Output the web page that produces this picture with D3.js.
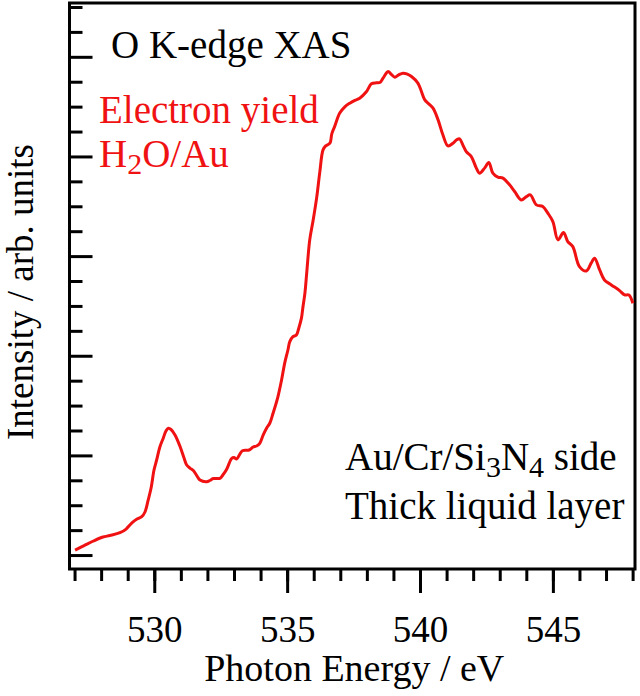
<!DOCTYPE html>
<html>
<head>
<meta charset="utf-8">
<script src="https://d3js.org/d3.v7.min.js"></script>
<style>
  body { margin: 0; background: white; }
  text { font-family: "Liberation Serif", "Times New Roman", serif; }
</style>
</head>
<body>
<div id="my_dataviz"></div>
<script>
// photon energy (eV)
var energy = [527.02, 527.36, 527.71, 528.07, 528.33, 528.71, 528.94, 529.15, 529.35, 529.53,
    529.65, 529.77, 529.88, 529.99, 530.09, 530.21, 530.34, 530.44, 530.53, 530.63,
    530.78, 530.97, 531.12, 531.22, 531.34, 531.47, 531.61, 531.72, 531.97, 532.09,
    532.22, 532.47, 532.58, 532.72, 532.91, 533.00, 533.10, 533.22, 533.32, 533.57,
    533.72, 533.85, 533.97, 534.10, 534.23, 534.35, 534.47, 534.65, 534.79, 534.91,
    535.03, 535.10, 535.21, 535.35, 535.44, 535.54, 535.59, 535.67, 535.74, 535.85,
    535.98, 536.11, 536.23, 536.35, 536.45, 536.61, 536.68, 536.79, 536.98, 537.17,
    537.36, 537.55, 537.73, 537.98, 538.17, 538.36, 538.49, 538.61, 538.80, 538.90,
    539.05, 539.20, 539.36, 539.50, 539.68, 539.92, 540.03, 540.18, 540.33, 540.49,
    540.68, 540.86, 541.05, 541.24, 541.38, 541.49, 541.61, 541.74, 541.93, 542.12,
    542.24, 542.43, 542.59, 542.74, 542.93, 543.12, 543.37, 543.56, 543.81, 544.00,
    544.15, 544.38, 544.62, 544.81, 545.00, 545.19, 545.40, 545.56, 545.75, 546.00,
    546.26, 546.44, 546.57, 546.76, 546.94, 547.20, 547.51, 547.70, 547.86, 548.01];

// electron yield intensity (arb. units)
var intensity = [0.050, 0.095, 0.141, 0.181, 0.196, 0.224, 0.261, 0.321, 0.361, 0.385,
    0.432, 0.552, 0.673, 0.853, 0.954, 1.084, 1.175, 1.245, 1.272, 1.260,
    1.205, 1.089, 0.974, 0.904, 0.873, 0.848, 0.793, 0.753, 0.736, 0.748,
    0.768, 0.770, 0.803, 0.858, 0.969, 0.979, 0.964, 1.014, 1.047, 1.054,
    1.084, 1.094, 1.121, 1.205, 1.275, 1.325, 1.423, 1.586, 1.757, 1.928,
    2.058, 2.142, 2.189, 2.209, 2.279, 2.380, 2.480, 2.631, 2.841, 3.163,
    3.363, 3.584, 3.845, 4.066, 4.106, 4.133, 4.227, 4.302, 4.435, 4.498,
    4.535, 4.563, 4.585, 4.649, 4.729, 4.739, 4.742, 4.786, 4.852, 4.829,
    4.796, 4.819, 4.836, 4.829, 4.802, 4.736, 4.669, 4.568, 4.528, 4.485,
    4.367, 4.217, 4.106, 4.133, 4.167, 4.177, 4.116, 4.049, 3.999, 3.883,
    3.832, 3.883, 3.939, 3.832, 3.792, 3.782, 3.715, 3.648, 3.564, 3.597,
    3.614, 3.514, 3.497, 3.431, 3.346, 3.163, 3.236, 3.146, 3.095, 2.895,
    2.851, 2.929, 2.979, 2.861, 2.761, 2.711, 2.654, 2.610, 2.610, 2.527];

// tick values
var xMajor = [530, 535, 540, 545];
var xMinor = d3.range(527, 549, 1);
var yMajor = [0, 1, 2, 3, 4, 5];
var yMinor = d3.range(0, 5.51, 0.25);

var red = "#f01212";
var width = 640, height = 696;
var margin = {top: 3, right: 5, bottom: 127, left: 69.5};

var svg = d3.select("#my_dataviz")
    .append("svg")
    .attr("width", width)
    .attr("height", height);

var x = d3.scaleLinear()
    .domain([526.81, 548.09])
    .range([margin.left, width - margin.right]);

var y = d3.scaleLinear()
    .domain([-0.14, 5.54])
    .range([height - margin.bottom, margin.top]);

// frame
svg.append("rect")
    .attr("x", margin.left)
    .attr("y", margin.top)
    .attr("width", width - margin.right - margin.left)
    .attr("height", height - margin.bottom - margin.top)
    .attr("fill", "none")
    .attr("stroke", "black")
    .attr("stroke-width", 3);

// bottom axis: minor ticks, then major ticks with labels
svg.append("g")
    .attr("transform", "translate(0," + (height - margin.bottom) + ")")
    .call(d3.axisBottom(x).tickValues(xMinor).tickSize(12).tickFormat(""))
    .call(g => g.select(".domain").remove());

svg.append("g")
    .attr("transform", "translate(0," + (height - margin.bottom) + ")")
    .call(d3.axisBottom(x).tickValues(xMajor).tickSize(24).tickPadding(23).tickFormat(d3.format("d")))
    .call(g => g.select(".domain").remove())
    .call(g => g.selectAll("text")
        .attr("font-size", "37px")
        .attr("fill", "black"));

// left axis: ticks point into the plot, no labels
svg.append("g")
    .attr("transform", "translate(" + margin.left + ",0)")
    .call(d3.axisRight(y).tickValues(yMinor.filter(v => v % 1 !== 0)).tickSize(13).tickFormat(""))
    .call(g => g.select(".domain").remove());

svg.append("g")
    .attr("transform", "translate(" + margin.left + ",0)")
    .call(d3.axisRight(y).tickValues(yMajor).tickSize(23).tickFormat(""))
    .call(g => g.select(".domain").remove());

svg.selectAll(".tick line")
    .attr("stroke", "black")
    .attr("stroke-width", 3);

// spectrum
var points = energy.map(function(e, i) { return [e, intensity[i]]; });

var line = d3.line()
    .x(function(d) { return x(d[0]); })
    .y(function(d) { return y(d[1]); })
    .curve(d3.curveCatmullRom.alpha(0.5));

svg.append("path")
    .datum(points)
    .attr("d", line)
    .attr("fill", "none")
    .attr("stroke", red)
    .attr("stroke-width", 3)
    .attr("stroke-linejoin", "round");

// axis titles
svg.append("text")
    .attr("x", (margin.left + width - margin.right) / 2 + 2)
    .attr("y", 681)
    .attr("text-anchor", "middle")
    .attr("font-size", "38px")
    .text("Photon Energy / eV");

svg.append("text")
    .attr("transform", "translate(33,292) rotate(-90)")
    .attr("text-anchor", "middle")
    .attr("font-size", "37px")
    .text("Intensity / arb. units");

// annotations
svg.append("text")
    .attr("x", 111)
    .attr("y", 58)
    .attr("font-size", "39px")
    .text("O K-edge XAS");

svg.append("text")
    .attr("x", 99)
    .attr("y", 123)
    .attr("font-size", "39px")
    .attr("fill", red)
    .text("Electron yield");

var h2o = svg.append("text")
    .attr("x", 99)
    .attr("y", 167)
    .attr("font-size", "39px")
    .attr("fill", red);
h2o.append("tspan").text("H");
h2o.append("tspan").attr("dy", 7).attr("font-size", "30px").text("2");
h2o.append("tspan").attr("dy", -7).text("O/Au");

var side = svg.append("text")
    .attr("x", 345)
    .attr("y", 470)
    .attr("font-size", "39px");
side.append("tspan").text("Au/Cr/Si");
side.append("tspan").attr("dy", 7).attr("font-size", "30px").text("3");
side.append("tspan").attr("dy", -7).text("N");
side.append("tspan").attr("dy", 7).attr("font-size", "30px").text("4");
side.append("tspan").attr("dy", -7).text(" side");

svg.append("text")
    .attr("x", 345)
    .attr("y", 519)
    .attr("font-size", "39px")
    .text("Thick liquid layer");
</script>
</body>
</html>
